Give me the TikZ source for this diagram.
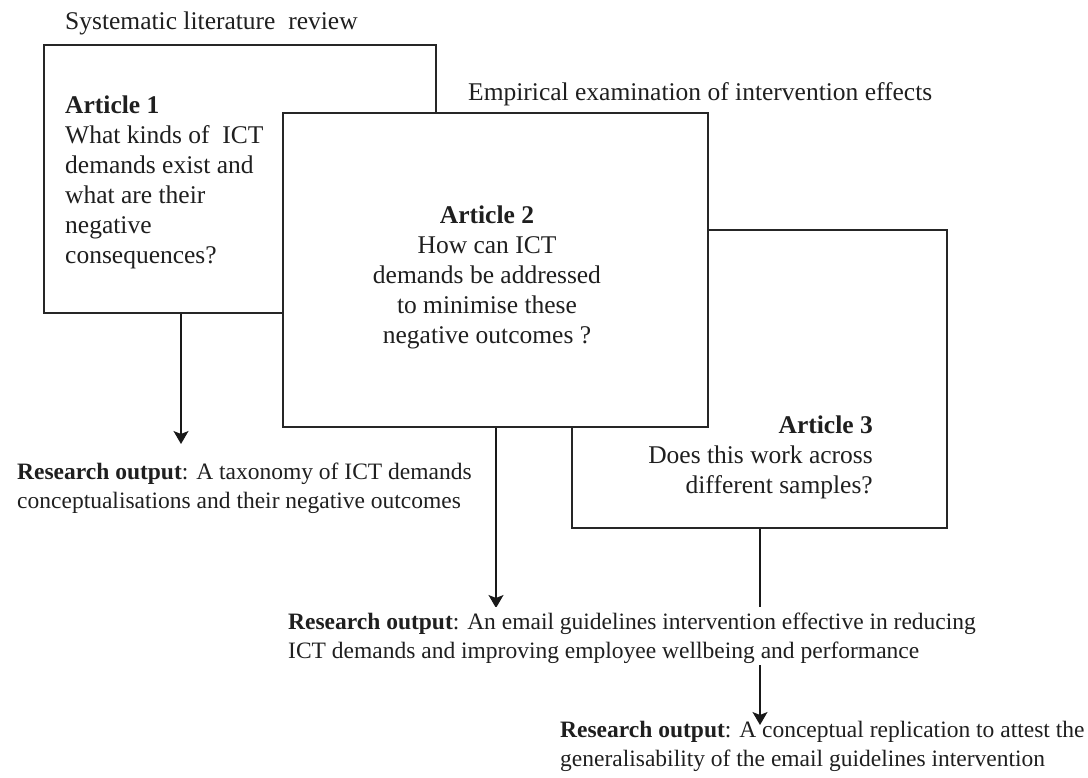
\documentclass[tikz,border=0pt]{standalone}
\usepackage{fontspec}
\setmainfont{Liberation Serif}
\usetikzlibrary{arrows.meta}
\begin{document}
\begin{tikzpicture}[x=1pt,y=-1pt,
  box/.style={draw=black!85, line width=1.3pt, fill=white, rectangle, inner sep=0pt},
  qtext/.style={inner sep=0pt, text=black!88, font=\fontsize{25.5}{30}\selectfont},
  otext/.style={inner sep=0pt, text=black!88, font=\fontsize{23.5}{29}\selectfont,
                align=left, anchor=north west},
  arr/.style={draw=black!90, line width=1.3pt,
              -{Stealth[length=13pt,width=15pt,inset=3pt]}}]
\useasboundingbox (0,0) rectangle (1088,778);

% study frames: the middle one overlaps the other two
\node[box, minimum width=392pt, minimum height=268pt] (b1) at (240,179) {};
\node[box, minimum width=375pt, minimum height=298pt] (b3) at (759.5,379) {};
\node[box, minimum width=425pt, minimum height=314pt] (b2) at (495.5,270) {};

% phase headings
\node[qtext, anchor=base west] (slr) at (65,30) {Systematic literature\ \ review};
\node[qtext, anchor=base west] (emp) at (468,101) {Empirical examination of intervention effects};

% research questions
\node[qtext, align=left, anchor=north west] (q1) at (65,92)
  {\strut\textbf{Article 1}\\What kinds of\ \ ICT\\demands exist and\\what are their\\negative\\consequences?};
\node[qtext, align=center, anchor=north] (q2) at (487,202)
  {\strut\textbf{Article 2}\\How can ICT\\demands be addressed\\to minimise these\\negative outcomes ?};
\node[qtext, align=right, anchor=north east] (q3) at (873,412)
  {\strut\textbf{Article 3}\\Does this work across\\different samples?};

% arrows from each frame down to its output
\coordinate (t1) at (181,444);
\coordinate (t2) at (496,608);
\coordinate (t3) at (760,725);
\draw[arr] (t1 |- b1.south) -- (t1);
\draw[arr] (t2 |- b2.south) -- (t2);
\draw[arr] (t3 |- b3.south) -- (t3);

% outputs (the middle one sits on a white ground over the third arrow)
\node[otext] (o1) at (17,458.7)
  {\strut\textbf{Research output}: A taxonomy of ICT demands\\conceptualisations and their negative outcomes};
\node[otext, fill=white, inner ysep=2pt] (o2) at (288,606.7)
  {\strut\textbf{Research output}: An email guidelines intervention effective in reducing\\ICT demands and improving employee wellbeing and performance};
\node[otext] (o3) at (560,716.7)
  {\strut\textbf{Research output}: A conceptual replication to attest the\\generalisability of the email guidelines intervention};
\end{tikzpicture}
\end{document}
